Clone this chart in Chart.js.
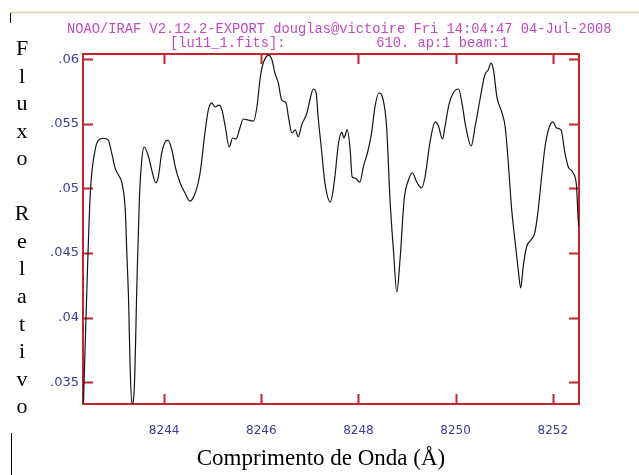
<!DOCTYPE html>
<html>
<head>
<meta charset="utf-8">
<script src="https://cdn.jsdelivr.net/npm/chart.js@4.4.1/dist/chart.umd.min.js"></script>
<style>
  html, body { margin: 0; padding: 0; background: #ffffff; }
  #wrap { position: relative; width: 639px; height: 475px; }
</style>
</head>
<body>
<div id="wrap"><canvas id="c" width="639" height="475"></canvas></div>
<script>
// ---- Data ----
const wavelength = [
  8242.34, 8242.42, 8242.48, 8242.58, 8242.65, 8242.75, 8242.85, 8242.92, 8242.99, 8243.06,
  8243.13, 8243.20, 8243.23, 8243.27, 8243.30, 8243.34, 8243.39, 8243.44, 8243.49, 8243.54,
  8243.59, 8243.68, 8243.76, 8243.83, 8243.88, 8243.95, 8244.02, 8244.08, 8244.16, 8244.23,
  8244.33, 8244.43, 8244.53, 8244.64, 8244.74, 8244.84, 8244.91, 8244.98, 8245.05, 8245.13,
  8245.19, 8245.26, 8245.34, 8245.41, 8245.48, 8245.56, 8245.63, 8245.73, 8245.84, 8245.91,
  8245.98, 8246.04, 8246.15, 8246.22, 8246.28, 8246.35, 8246.42, 8246.51, 8246.56, 8246.63,
  8246.70, 8246.76, 8246.83, 8246.94, 8247.00, 8247.07, 8247.13, 8247.17, 8247.24, 8247.31,
  8247.42, 8247.50, 8247.59, 8247.66, 8247.70, 8247.77, 8247.83, 8247.87, 8247.93, 8248.03,
  8248.10, 8248.20, 8248.27, 8248.34, 8248.42, 8248.51, 8248.58, 8248.65, 8248.72, 8248.79,
  8248.86, 8248.94, 8249.03, 8249.11, 8249.20, 8249.30, 8249.37, 8249.47, 8249.58, 8249.64,
  8249.73, 8249.78, 8249.86, 8249.95, 8250.06, 8250.13, 8250.21, 8250.32, 8250.40, 8250.50,
  8250.60, 8250.67, 8250.73, 8250.78, 8250.85, 8250.95, 8251.02, 8251.08, 8251.15, 8251.22,
  8251.29, 8251.34, 8251.39, 8251.46, 8251.55, 8251.63, 8251.70, 8251.77, 8251.84, 8251.91,
  8252.00, 8252.08, 8252.17, 8252.25, 8252.32, 8252.42, 8252.49, 8252.52, 8252.54
];
const flux = [
  0.0334, 0.04346, 0.04965, 0.05298, 0.05375, 0.05389, 0.05375, 0.05275, 0.05159, 0.05104,
  0.05043, 0.04834, 0.04524, 0.04114, 0.03618, 0.0333, 0.03495, 0.04269, 0.04911, 0.05221,
  0.05321, 0.05244, 0.0512, 0.05043, 0.05089, 0.05275, 0.0536, 0.05375, 0.05298, 0.05166,
  0.05043, 0.04965, 0.04903, 0.04965, 0.0512, 0.0543, 0.05608, 0.05662, 0.05631, 0.05646,
  0.05608, 0.05476, 0.05321, 0.05391, 0.05383, 0.05468, 0.05538, 0.0553, 0.05522, 0.05631,
  0.05863, 0.05971, 0.06033, 0.05995, 0.05894, 0.05817, 0.05685, 0.05662, 0.05553, 0.0543,
  0.05453, 0.05399, 0.05491, 0.05584, 0.05685, 0.0577, 0.05739, 0.05553, 0.05298, 0.05043,
  0.04896, 0.05043, 0.05352, 0.05437, 0.05391, 0.05453, 0.05298, 0.05089, 0.05081, 0.0505,
  0.05166, 0.05298, 0.0543, 0.05631, 0.05739, 0.05685, 0.05476, 0.04911, 0.04524, 0.04199,
  0.0447, 0.04911, 0.05066, 0.0512, 0.0505, 0.05004, 0.05089, 0.05352, 0.05515, 0.05491,
  0.05383, 0.05476, 0.05646, 0.05739, 0.0577, 0.05662, 0.05476, 0.05329, 0.05476, 0.05685,
  0.05878, 0.05917, 0.05971, 0.05917, 0.05708, 0.05592, 0.05476, 0.05221, 0.04857, 0.04601,
  0.04369, 0.0423, 0.04392, 0.04547, 0.04601, 0.04656, 0.04834, 0.05089, 0.05321, 0.05453,
  0.05515, 0.05468, 0.05453, 0.05275, 0.05166, 0.0512, 0.05012, 0.04779, 0.04702
];
const xTickValues = [8244, 8246, 8248, 8250, 8252];
const yTickValues = [0.035, 0.04, 0.045, 0.05, 0.055, 0.06];
const xRange = [8242.33, 8252.54];
const yRange = [0.03332, 0.06041];
const titleLine1 = 'NOAO/IRAF V2.12.2-EXPORT douglas@victoire Fri 14:04:47 04-Jul-2008';
const titleLine2 = '[lu11_1.fits]:           610. ap:1 beam:1';
const xTitle = 'Comprimento de Onda (Å)';
const yTitle = 'Fluxo Relativo';

// ---- Styles ----
const RED = '#c4262e';
const TICKBLUE = '#3d3d94';
const MAGENTA = '#bf4cbf';

const frame = {
  id: 'frame',
  beforeDatasetsDraw(chart) {
    const { ctx, chartArea: a, scales } = chart;
    ctx.save();
    ctx.strokeStyle = RED;
    ctx.lineWidth = 2;
    ctx.strokeRect(a.left, a.top, a.right - a.left, a.bottom - a.top);
    const L = 10;
    ctx.beginPath();
    xTickValues.forEach(v => {
      const px = Math.round(scales.x.getPixelForValue(v)) + 0.5;
      ctx.moveTo(px, a.bottom); ctx.lineTo(px, a.bottom - L);
      ctx.moveTo(px, a.top); ctx.lineTo(px, a.top + L);
    });
    yTickValues.forEach(v => {
      const py = Math.round(scales.y.getPixelForValue(v)) + 0.5;
      ctx.moveTo(a.left, py); ctx.lineTo(a.left + L, py);
      ctx.moveTo(a.right, py); ctx.lineTo(a.right - L, py);
    });
    ctx.stroke();
    ctx.restore();
  },
  afterDraw(chart) {
    const { ctx } = chart;
    ctx.save();
    // decorative page lines
    ctx.strokeStyle = '#e4cfae';
    ctx.lineWidth = 1.5;
    ctx.beginPath(); ctx.moveTo(10, 12.5); ctx.lineTo(639, 12.5); ctx.stroke();
    ctx.strokeStyle = '#000';
    ctx.lineWidth = 1;
    ctx.beginPath();
    ctx.moveTo(10.5, 13); ctx.lineTo(10.5, 23);
    ctx.moveTo(11.5, 433); ctx.lineTo(11.5, 475);
    ctx.stroke();
    // title lines
    ctx.fillStyle = MAGENTA;
    ctx.font = "13.75px 'Liberation Mono', 'DejaVu Sans Mono', monospace";
    ctx.textAlign = 'left';
    ctx.textBaseline = 'alphabetic';
    ctx.fillText(titleLine1, 67, 33);
    ctx.fillText(titleLine2, 170, 47);
    // x title
    ctx.fillStyle = '#000';
    ctx.font = "23px 'Liberation Serif', 'Times New Roman', serif";
    ctx.textAlign = 'center';
    ctx.fillText(xTitle, 321, 465);
    // y title, stacked letters
    ctx.font = "22px 'Liberation Serif', 'Times New Roman', serif";
    const chars = Array.from(yTitle);
    chars.forEach((ch, i) => {
      if (ch !== ' ') ctx.fillText(ch, 22, 55 + i * 27.55);
    });
    ctx.restore();
  }
};

new Chart(document.getElementById('c'), {
  type: 'line',
  data: {
    datasets: [{
      data: wavelength.map((x, i) => ({ x, y: flux[i] })),
      borderColor: '#151515',
      borderWidth: 1.2,
      pointRadius: 0,
      fill: false,
      cubicInterpolationMode: 'monotone'
    }]
  },
  options: {
    responsive: false,
    animation: false,
    events: [],
    layout: { padding: { left: 0, right: 60, top: 54, bottom: 0 } },
    plugins: { legend: { display: false }, title: { display: false }, tooltip: { enabled: false } },
    scales: {
      x: {
        type: 'linear',
        min: xRange[0], max: xRange[1],
        afterBuildTicks: s => { s.ticks = xTickValues.map(v => ({ value: v })); },
        afterFit: s => { s.height = 71; },
        grid: { display: false, drawTicks: false },
        border: { display: false },
        ticks: {
          padding: 20, maxRotation: 0, autoSkip: false,
          color: TICKBLUE,
          font: { family: "'DejaVu Sans', sans-serif", size: 12 },
          callback: v => String(v)
        }
      },
      y: {
        type: 'linear',
        min: yRange[0], max: yRange[1],
        afterBuildTicks: s => { s.ticks = yTickValues.map(v => ({ value: v })); },
        afterFit: s => { s.width = 83; },
        grid: { display: false, drawTicks: false },
        border: { display: false },
        ticks: {
          padding: 4, autoSkip: false,
          color: TICKBLUE,
          font: { family: "'DejaVu Sans', sans-serif", size: 13 },
          callback: v => String(Number(v.toFixed(3))).replace(/^0/, '')
        }
      }
    }
  },
  plugins: [frame]
});
</script>
</body>
</html>
